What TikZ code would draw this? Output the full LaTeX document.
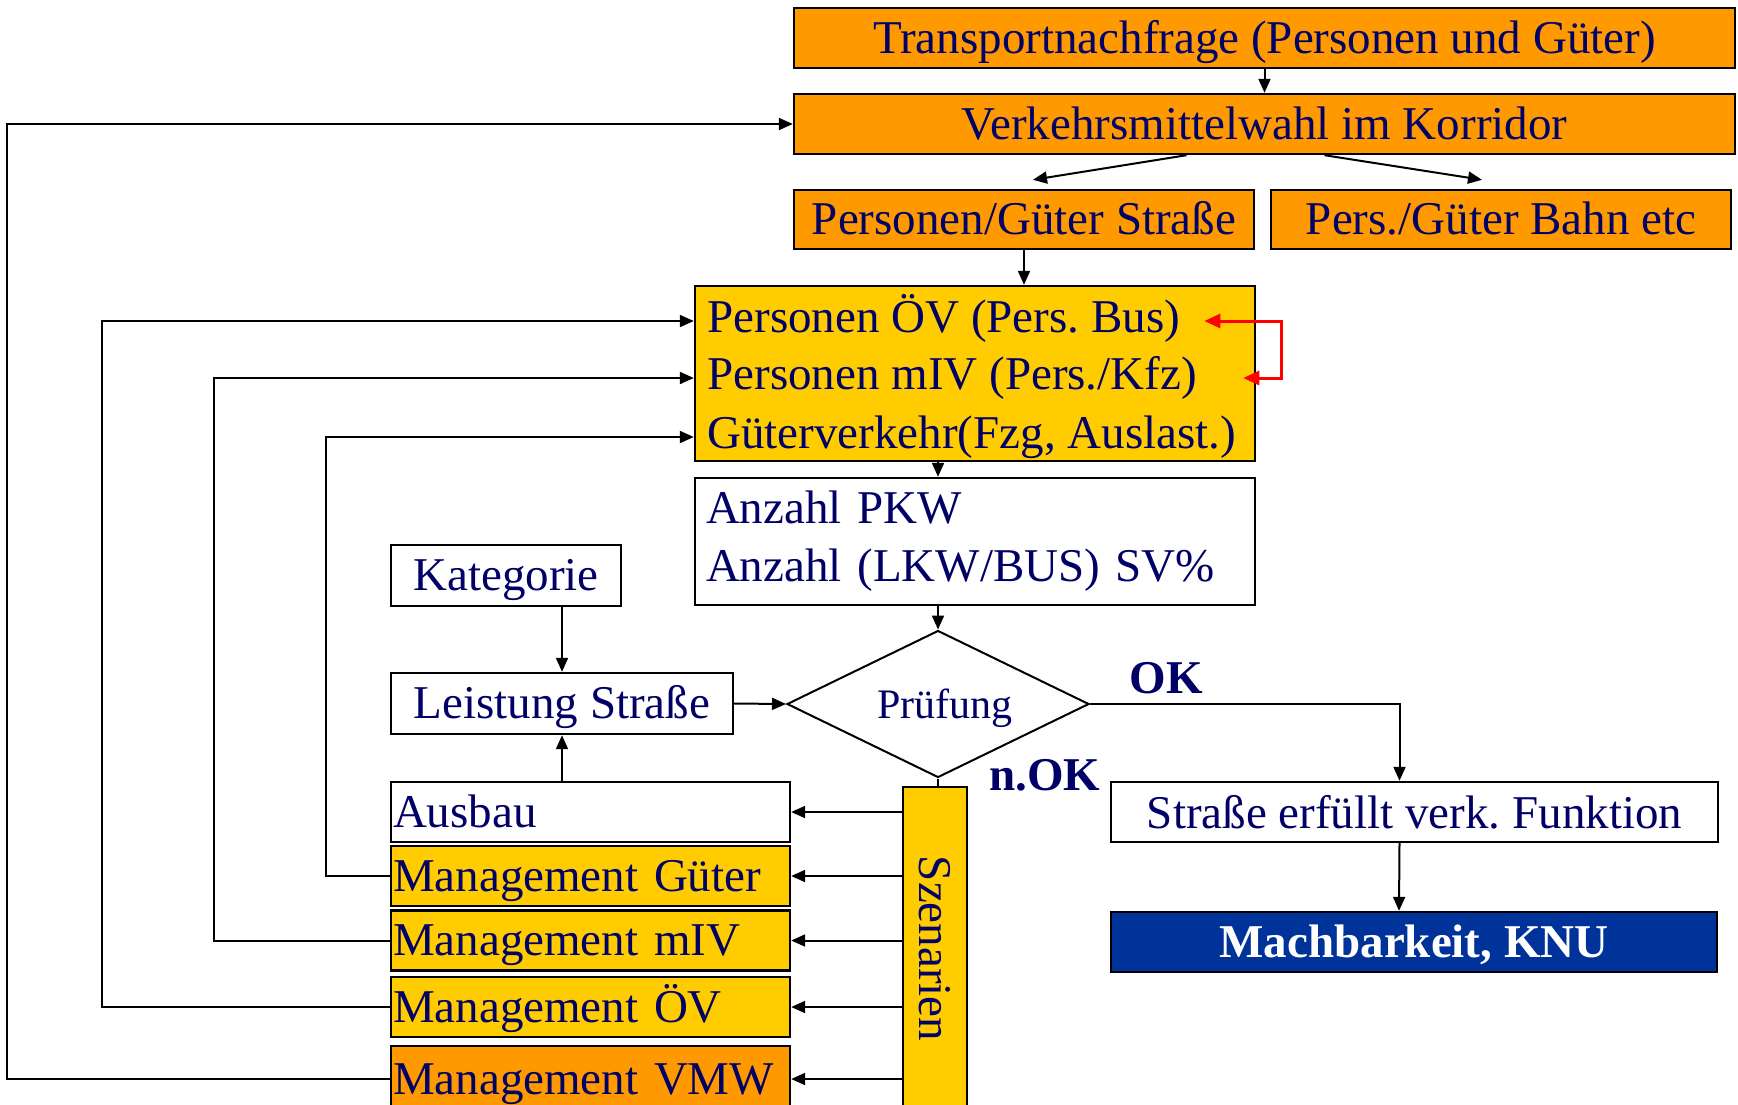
\documentclass[tikz,border=0pt]{standalone}
\usepackage{fontspec}
\setmainfont{Liberation Serif}
\usetikzlibrary{shapes.geometric,arrows.meta}
\definecolor{dunkelblau}{RGB}{0,0,102}
\definecolor{vmorange}{RGB}{255,153,0}
\definecolor{vmgelb}{RGB}{255,204,0}
\definecolor{vmblau}{RGB}{0,51,153}
\frenchspacing

\begin{document}
\begin{tikzpicture}[x=0.5pt,y=-0.5pt,
	every node/.style={text=dunkelblau,font=\fontsize{23.5pt}{29pt}\selectfont},
	kasten/.style={draw,line width=1.2pt,inner sep=0pt,minimum height=30pt},
	einzeilig/.style={kasten,text height=20pt,text depth=5pt},
	orangekasten/.style={einzeilig,fill=vmorange},
	mgmt/.style={einzeilig,minimum width=199.5pt,text width=197.5pt,align=left,inner xsep=1pt},
	zeile/.style={inner sep=0pt,text height=16pt,text depth=5pt,anchor=west},
	pfeil/.style={-{Triangle[length=7pt,width=6pt]},line width=1pt},
	rotpfeil/.style={{Triangle[length=8pt,width=7pt]}-{Triangle[length=8pt,width=7pt]},red,line width=1.5pt}]
	\useasboundingbox (0,0) rectangle (1738,1104);

	\node[orangekasten,minimum width=470.5pt] (trans) at (1264.5,38) {Transportnachfrage (Personen und Güter)};
	\node[orangekasten,minimum width=470.5pt] (vmw) at (1264.5,124) {Verkehrsmittelwahl im Korridor};
	\node[orangekasten,minimum width=230pt,minimum height=29.5pt] (strasse) at (1024,219.5) {Personen/Güter Straße};
	\node[orangekasten,minimum width=230pt,minimum height=29.5pt] (bahn) at (1501,219.5) {Pers./Güter Bahn etc};

	\node[kasten,fill=vmgelb,minimum width=280pt,minimum height=87.5pt] (pers) at (975,373.5) {};
	\node[zeile] (pov) at (707,321) {Personen ÖV (Pers. Bus)};
	\node[zeile] (pmiv) at (707,378) {Personen mIV (Pers./Kfz)};
	\node[zeile] (pgv) at (707,437) {Güterverkehr(Fzg, Auslast.)};
	\node[kasten,minimum width=280pt,minimum height=63.5pt,text width=269pt,align=left,inner xsep=5.5pt] (anzahl) at (975,541.5) {Anzahl PKW\\Anzahl (LKW/BUS) SV\%};

	\node[draw,diamond,line width=1pt,inner sep=0pt,shape aspect=2,minimum width=151pt,minimum height=73.5pt,text height=18pt,text depth=4pt,font=\fontsize{21pt}{25pt}\selectfont] (pruef) at (938,704) {\hspace*{7pt}Prüfung};
	\node[einzeilig,minimum width=115pt,minimum height=30.5pt] (kat) at (506,575.5) {Kategorie};
	\node[einzeilig,minimum width=171pt,minimum height=30.5pt] (leist) at (562,703.5) {Leistung Straße};
	\node[font=\fontsize{23.5pt}{29pt}\selectfont\bfseries] (ok) at (1166,678) {OK};
	\node[font=\fontsize{23.5pt}{29pt}\selectfont\bfseries] (nok) at (1045,775) {n.OK};
	\node[kasten,minimum width=303.5pt] (erfuellt) at (1414.5,812) {Straße erfüllt verk. Funktion};
	\node[einzeilig,fill=vmblau,minimum width=303pt,text=white,font=\fontsize{23.5pt}{29pt}\selectfont\bfseries] (mach) at (1414,942) {Machbarkeit, KNU};

	\node[kasten,fill=vmgelb,minimum width=32pt,minimum height=161.5pt] (szen) at (935,948.5) {\rotatebox{-90}{Szenarien}};
	\node[mgmt] (ausbau) at (590.5,812) {Ausbau};
	\node[mgmt,fill=vmgelb] (mgg) at (590.5,876) {Management Güter};
	\node[mgmt,fill=vmgelb] (mgm) at (590.5,940.5) {Management mIV};
	\node[mgmt,fill=vmgelb] (mgo) at (590.5,1007) {Management ÖV};
	\node[mgmt,fill=vmorange,minimum height=33pt] (mgv) at (590.5,1079) {Management VMW};

	\draw[pfeil] (trans) -- (vmw);
	\draw[pfeil] ([xshift=-39pt]vmw.south) -- ([shift={(4.5pt,4.5pt)}]strasse.north);
	\draw[pfeil] ([xshift=30pt]vmw.south) -- ([shift={(-9.5pt,4.5pt)}]bahn.north);
	\draw[pfeil] (strasse.south) -- (strasse.south |- pers.north);
	\draw[rotpfeil] ([xshift=12pt]pov.east) -- ++(77,0) |- ([xshift=23pt]pmiv.east);
	\draw[pfeil] (pers.south -| pruef) -- (anzahl.north -| pruef);
	\draw[pfeil] (anzahl.south -| pruef) -- (pruef.north);
	\draw[pfeil] (kat.south -| leist) -- (leist.north);
	\draw[pfeil] (ausbau.north -| leist) -- (leist.south);
	\draw[pfeil] (leist.east) -- (pruef.west);
	\draw[pfeil] (pruef.east) -| ([xshift=-7.5pt]erfuellt.north);
	\draw[pfeil] ([xshift=-7.5pt]erfuellt.south) -- ([xshift=-7.5pt]mach.north);
	\draw[line width=1pt] (pruef.south) -- (pruef.south |- szen.north);
	\foreach \ziel in {ausbau,mgg,mgm,mgo,mgv}
		\draw[pfeil] (szen.west |- \ziel.east) -- (\ziel.east);

	\draw[pfeil] (mgv.west) -- ++(-383,0) |- (vmw.west);
	\draw[pfeil] (mgo.west) -- ++(-288,0) |- (pers.west |- pov.west);
	\draw[pfeil] (mgm.west) -- ++(-176,0) |- (pers.west |- pmiv.west);
	\draw[pfeil] (mgg.west) -- ++(-64,0) |- (pers.west |- pgv.west);
\end{tikzpicture}
\end{document}
